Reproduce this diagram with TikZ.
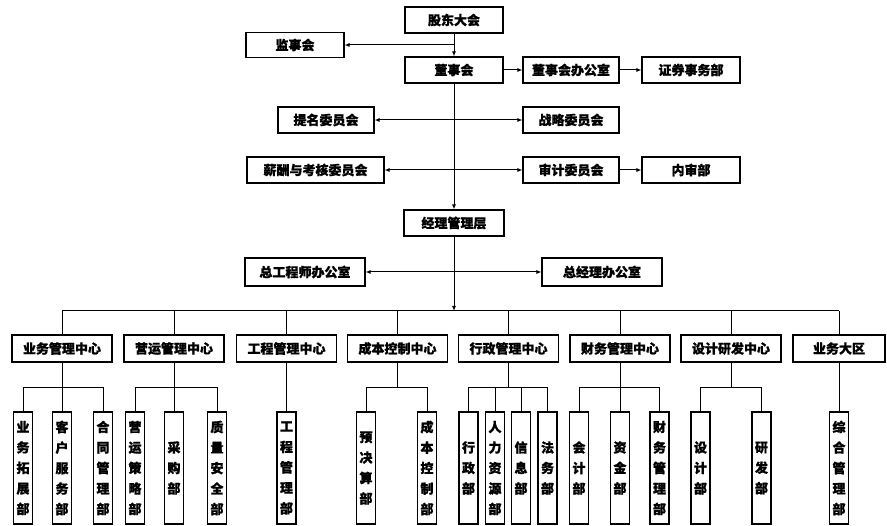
\documentclass[tikz,border=0pt]{standalone}
\usepackage{fontspec}
\setmainfont{Noto Sans CJK SC}[FakeBold=0.9]
\usetikzlibrary{arrows.meta}
\begin{document}
\begin{tikzpicture}[x=1pt,y=-1pt,
  box/.style={draw,line width=1.1pt,inner sep=0pt,font=\fontsize{13}{15}\selectfont\bfseries},
  sz/.style 2 args={minimum width=#1pt,minimum height=#2pt},
  vbox/.style={draw,line width=1.1pt,inner sep=0pt,minimum width=19pt,minimum height=112pt,align=center,font=\fontsize{13}{20.5}\selectfont\bfseries},
  ln/.style={line width=1pt},
  arr/.style={ln,-{Latex[length=5pt,width=4pt]}},
  darr/.style={ln,{Latex[length=5pt,width=4pt]}-{Latex[length=5pt,width=4pt]}}]
\useasboundingbox (0,0) rectangle (887,526);
% top part
\node[box,sz={98}{26}] (gd) at (454,20) {股东大会};
\node[box,sz={98}{25}] (js) at (295,45) {监事会};
\node[box,sz={98}{26}] (ds) at (454,70) {董事会};
\node[box,sz={96}{26}] (dsb) at (571,70) {董事会办公室};
\node[box,sz={98}{26}] (zq) at (691,70) {证券事务部};
\node[box,sz={96}{26}] (tm) at (326,120) {提名委员会};
\node[box,sz={96}{26}] (zl) at (571,120) {战略委员会};
\node[box,sz={137}{26}] (xc) at (315.5,170) {薪酬与考核委员会};
\node[box,sz={96}{26}] (sj) at (571,170) {审计委员会};
\node[box,sz={98}{26}] (ns) at (691,170) {内审部};
\node[box,sz={100}{26}] (jl) at (454,223) {经理管理层};
\node[box,sz={120}{28}] (zg) at (305,272) {总工程师办公室};
\node[box,sz={120}{28}] (zj) at (602,272) {总经理办公室};
\coordinate (bus) at (0,311);
\coordinate (sb) at (0,388);
% centres
\node[box,sz={100}{27}] (c1) at (62,348.5) {业务管理中心};
\node[box,sz={100}{27}] (c2) at (174,348.5) {营运管理中心};
\node[box,sz={100}{27}] (c3) at (286.5,348.5) {工程管理中心};
\node[box,sz={100}{27}] (c4) at (397.5,348.5) {成本控制中心};
\node[box,sz={100}{27}] (c5) at (508.5,348.5) {行政管理中心};
\node[box,sz={100}{27}] (c6) at (620,348.5) {财务管理中心};
\node[box,sz={100}{27}] (c7) at (731,348.5) {设计研发中心};
\node[box,sz={92}{27}] (c8) at (839,348.5) {业务大区};
% departments
\node[vbox] (s11) at (23,468) {业\\务\\拓\\展\\部};
\node[vbox] (s12) at (62,468) {客\\户\\服\\务\\部};
\node[vbox] (s13) at (103,468) {合\\同\\管\\理\\部};
\node[vbox] (s21) at (135,468) {营\\运\\策\\略\\部};
\node[vbox] (s22) at (174,468) {采\\购\\部};
\node[vbox] (s23) at (217,468) {质\\量\\安\\全\\部};
\node[vbox] (s31) at (286.5,468) {工\\程\\管\\理\\部};
\node[vbox] (s41) at (366,468) {预\\决\\算\\部};
\node[vbox] (s42) at (427,468) {成\\本\\控\\制\\部};
\node[vbox] (s51) at (468.5,468) {行\\政\\部};
\node[vbox] (s52) at (495,468) {人\\力\\资\\源\\部};
\node[vbox] (s53) at (521,468) {信\\息\\部};
\node[vbox] (s54) at (547.5,468) {法\\务\\部};
\node[vbox] (s61) at (579,468) {会\\计\\部};
\node[vbox] (s62) at (620,468) {资\\金\\部};
\node[vbox] (s63) at (659.5,468) {财\\务\\管\\理\\部};
\node[vbox] (s71) at (700.5,468) {设\\计\\部};
\node[vbox] (s72) at (761.5,468) {研\\发\\部};
\node[vbox] (s81) at (839,468) {综\\合\\管\\理\\部};
% connectors top
\draw[arr] (gd.south) -- (ds.north);
\draw[arr] (gd.south |- js.east) -- (js.east);
\draw[arr] (ds.east) -- (dsb.west);
\draw[arr] (dsb.east) -- (zq.west);
\draw[arr] (ds.south) -- (jl.north);
\draw[darr] (tm.east) -- (zl.west);
\draw[darr] (xc.east) -- (sj.west);
\draw[arr] (sj.east) -- (ns.west);
\draw[darr] (zg.east) -- (zj.west);
\draw[arr] (jl.south) -- (jl.south |- bus);
% bus
\draw[ln] (c1.north |- bus) -- (c8.north |- bus);
\foreach \c in {c1,c2,c3,c4,c5,c6,c7,c8}
  \draw[ln] (\c.north |- bus) -- (\c.north);
% sub buses
\foreach \c/\l/\r in {c1/s11/s13,c2/s21/s23,c4/s41/s42,c5/s51/s54,c6/s61/s63,c7/s71/s72}{
  \draw[ln] (\c.south) -- (\c.south |- sb);
  \draw[ln] (\l.north) -- (\l.north |- sb) -- (\r.north |- sb) -- (\r.north);
}
\foreach \s in {s12,s22,s52,s53,s62}
  \draw[ln] (\s.north |- sb) -- (\s.north);
\draw[ln] (c3.south) -- (s31.north);
\draw[ln] (c8.south) -- (s81.north);
\end{tikzpicture}
\end{document}
